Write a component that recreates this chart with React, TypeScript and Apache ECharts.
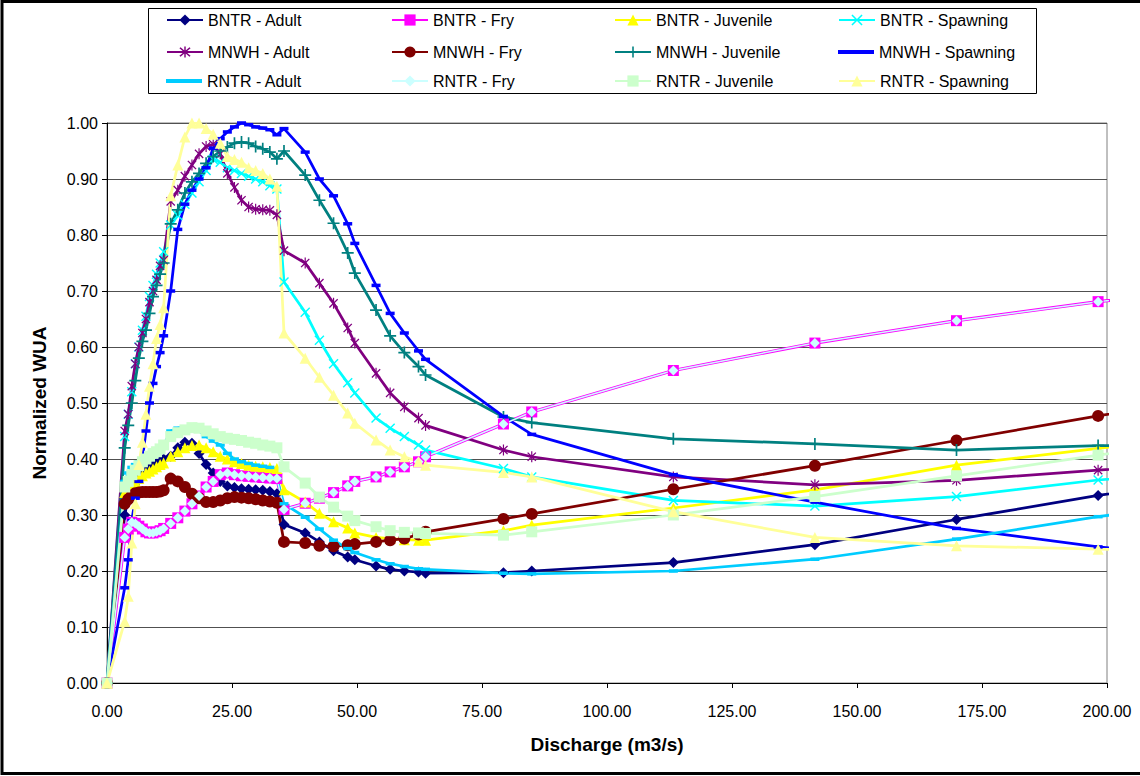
import React, { useEffect, useRef } from 'react';
import * as echarts from 'echarts';

// Discharge (m3/s)
const DISCHARGE = [0, 3.54, 4.25, 4.96, 5.66, 6.37, 7.08, 7.79, 8.50, 9.20, 9.91, 10.62, 11.33, 12.74, 14.16, 15.58, 16.99, 18.41, 19.82, 21.24, 22.65, 24.07, 25.49, 26.90, 28.32, 29.73, 31.15, 32.57, 33.98, 35.40, 39.64, 42.48, 45.31, 48.14, 49.56, 53.81, 56.63, 59.47, 62.30, 63.71, 79.29, 84.95, 113.27, 141.58, 169.90, 198.22, 226.53];

const BNTR_ADULT = [0, 0.30, 0.33, 0.35, 0.36, 0.37, 0.375, 0.38, 0.385, 0.39, 0.393, 0.396, 0.40, 0.405, 0.42, 0.43, 0.428, 0.41, 0.39, 0.375, 0.36, 0.352, 0.349, 0.347, 0.346, 0.345, 0.344, 0.342, 0.338, 0.283, 0.268, 0.252, 0.236, 0.225, 0.22, 0.209, 0.203, 0.2, 0.198, 0.196, 0.197, 0.2, 0.215, 0.247, 0.292, 0.335, 0.37];
const BNTR_FRY = [0, 0.26, 0.275, 0.287, 0.285, 0.28, 0.275, 0.27, 0.268, 0.268, 0.27, 0.272, 0.276, 0.285, 0.295, 0.307, 0.32, 0.334, 0.35, 0.36, 0.372, 0.375, 0.372, 0.37, 0.369, 0.368, 0.367, 0.366, 0.365, 0.31, 0.321, 0.33, 0.34, 0.352, 0.36, 0.368, 0.377, 0.386, 0.395, 0.404, 0.4625, 0.484, 0.558, 0.607, 0.647, 0.681, 0.71];
const BNTR_JUVENILE = [0, 0.34, 0.35, 0.355, 0.36, 0.365, 0.37, 0.375, 0.378, 0.382, 0.386, 0.39, 0.393, 0.405, 0.413, 0.42, 0.424, 0.425, 0.42, 0.413, 0.405, 0.40, 0.395, 0.392, 0.389, 0.387, 0.386, 0.385, 0.383, 0.345, 0.323, 0.303, 0.288, 0.277, 0.268, 0.26, 0.258, 0.256, 0.255, 0.255, 0.272, 0.282, 0.3125, 0.345, 0.389, 0.419, 0.45];
const BNTR_SPAWNING = [0, 0.44, 0.48, 0.52, 0.57, 0.60, 0.63, 0.655, 0.69, 0.71, 0.73, 0.75, 0.77, 0.818, 0.835, 0.855, 0.875, 0.895, 0.915, 0.935, 0.93, 0.92, 0.915, 0.91, 0.905, 0.90, 0.895, 0.888, 0.882, 0.716, 0.662, 0.612, 0.57, 0.536, 0.518, 0.473, 0.455, 0.44, 0.425, 0.416, 0.383, 0.368, 0.326, 0.316, 0.333, 0.3625, 0.38];
const MNWH_ADULT = [0, 0.45, 0.48, 0.53, 0.57, 0.60, 0.625, 0.65, 0.68, 0.70, 0.72, 0.745, 0.755, 0.86, 0.88, 0.905, 0.925, 0.945, 0.958, 0.962, 0.945, 0.91, 0.885, 0.862, 0.85, 0.846, 0.845, 0.844, 0.836, 0.772, 0.75, 0.714, 0.678, 0.634, 0.607, 0.553, 0.518, 0.493, 0.473, 0.46, 0.416, 0.404, 0.368, 0.354, 0.362, 0.38, 0.40];
const MNWH_FRY = [0, 0.32, 0.328, 0.335, 0.339, 0.34, 0.341, 0.341, 0.341, 0.341, 0.341, 0.342, 0.344, 0.365, 0.36, 0.35, 0.338, 0.33, 0.323, 0.323, 0.326, 0.33, 0.332, 0.331, 0.33, 0.328, 0.326, 0.324, 0.322, 0.252, 0.25, 0.245, 0.244, 0.246, 0.248, 0.252, 0.255, 0.258, 0.265, 0.27, 0.293, 0.302, 0.346, 0.388, 0.433, 0.477, 0.52];
const MNWH_JUVENILE = [0, 0.42, 0.46, 0.50, 0.54, 0.58, 0.61, 0.63, 0.66, 0.69, 0.71, 0.73, 0.75, 0.82, 0.845, 0.875, 0.895, 0.91, 0.928, 0.94, 0.95, 0.957, 0.964, 0.966, 0.964, 0.958, 0.954, 0.948, 0.936, 0.95, 0.907, 0.862, 0.821, 0.768, 0.732, 0.666, 0.62, 0.59, 0.565, 0.55, 0.475, 0.465, 0.436, 0.427, 0.416, 0.424, 0.425];
const MNWH_SPAWNING = [0, 0.17, 0.22, 0.29, 0.33, 0.36, 0.40, 0.45, 0.50, 0.535, 0.565, 0.59, 0.62, 0.70, 0.81, 0.855, 0.88, 0.90, 0.92, 0.955, 0.972, 0.984, 0.993, 1.0, 0.997, 0.993, 0.991, 0.988, 0.979, 0.99, 0.948, 0.90, 0.87, 0.82, 0.785, 0.71, 0.66, 0.625, 0.593, 0.578, 0.476, 0.444, 0.372, 0.323, 0.276, 0.243, 0.22];
const RNTR_ADULT = [0, 0.36, 0.375, 0.385, 0.39, 0.395, 0.40, 0.405, 0.41, 0.413, 0.416, 0.42, 0.425, 0.45, 0.455, 0.456, 0.457, 0.45, 0.44, 0.432, 0.425, 0.41, 0.40, 0.395, 0.392, 0.389, 0.387, 0.385, 0.365, 0.32, 0.296, 0.275, 0.255, 0.24, 0.233, 0.22, 0.213, 0.208, 0.204, 0.203, 0.196, 0.195, 0.2, 0.221, 0.257, 0.297, 0.33];
// RNTR - Fry coincides with BNTR - Fry in the picture
const RNTR_FRY = [0, 0.26, 0.275, 0.287, 0.285, 0.28, 0.275, 0.27, 0.268, 0.268, 0.27, 0.272, 0.276, 0.285, 0.295, 0.307, 0.32, 0.334, 0.35, 0.36, 0.372, 0.375, 0.372, 0.37, 0.369, 0.368, 0.367, 0.366, 0.365, 0.31, 0.321, 0.33, 0.34, 0.352, 0.36, 0.368, 0.377, 0.386, 0.395, 0.404, 0.4625, 0.484, 0.558, 0.607, 0.647, 0.681, 0.71];
const RNTR_JUVENILE = [0, 0.35, 0.36, 0.372, 0.38, 0.388, 0.395, 0.40, 0.405, 0.41, 0.413, 0.418, 0.425, 0.44, 0.447, 0.452, 0.456, 0.455, 0.45, 0.445, 0.44, 0.437, 0.435, 0.433, 0.43, 0.428, 0.425, 0.423, 0.42, 0.386, 0.357, 0.332, 0.314, 0.298, 0.29, 0.279, 0.272, 0.269, 0.268, 0.267, 0.264, 0.27, 0.30, 0.333, 0.37, 0.407, 0.44];
const RNTR_SPAWNING = [0, 0.11, 0.155, 0.25, 0.32, 0.39, 0.43, 0.48, 0.53, 0.57, 0.615, 0.64, 0.67, 0.87, 0.925, 0.975, 1.0, 1.0, 0.99, 0.98, 0.964, 0.94, 0.935, 0.93, 0.92, 0.915, 0.91, 0.90, 0.887, 0.625, 0.58, 0.546, 0.514, 0.482, 0.464, 0.434, 0.416, 0.404, 0.395, 0.389, 0.376, 0.368, 0.306, 0.26, 0.245, 0.239, 0.235];

const X_SYM = 'path://M1,0L5,4L9,0L10,1L6,5L10,9L9,10L5,6L1,10L0,9L4,5L0,1Z';
const AST_SYM = 'path://M1,0L5,4L9,0L10,1L6,5L10,9L9,10L5,6L1,10L0,9L4,5L0,1Z M4.35,-1H5.65V11H4.35Z';
const PLUS_SYM = 'path://M4.3,0H5.7V4.3H10V5.7H5.7V10H4.3V5.7H0V4.3H4.3Z';

const SERIES_DEFS = [
  { name: 'BNTR - Adult', data: BNTR_ADULT, color: '#000080', symbol: 'diamond', size: 11, width: 2.75, dash: false },
  { name: 'BNTR - Fry', data: BNTR_FRY, color: '#FF00FF', symbol: 'rect', size: 11, width: 3.25, dash: false },
  { name: 'BNTR - Juvenile', data: BNTR_JUVENILE, color: '#FFFF00', symbol: 'triangle', size: 11, width: 2.75, dash: false },
  { name: 'BNTR - Spawning', data: BNTR_SPAWNING, color: '#00FFFF', symbol: X_SYM, size: 10, width: 2.75, dash: false },
  { name: 'MNWH - Adult', data: MNWH_ADULT, color: '#800080', symbol: AST_SYM, size: 11, width: 2.75, dash: false },
  { name: 'MNWH - Fry', data: MNWH_FRY, color: '#800000', symbol: 'circle', size: 12, width: 2.75, dash: false },
  { name: 'MNWH - Juvenile', data: MNWH_JUVENILE, color: '#008080', symbol: PLUS_SYM, size: 12, width: 2.75, dash: false },
  { name: 'MNWH - Spawning', data: MNWH_SPAWNING, color: '#0000FF', symbol: 'rect', size: [9, 3.5], width: 2.75, dash: true },
  { name: 'RNTR - Adult', data: RNTR_ADULT, color: '#00CCFF', symbol: 'rect', size: [9, 3.5], width: 2.75, dash: true },
  { name: 'RNTR - Fry', data: RNTR_FRY, color: '#CCFFFF', symbol: 'diamond', size: 10, width: 1.5, dash: false },
  { name: 'RNTR - Juvenile', data: RNTR_JUVENILE, color: '#CCFFCC', symbol: 'rect', size: 11, width: 2.75, dash: false },
  { name: 'RNTR - Spawning', data: RNTR_SPAWNING, color: '#FFFF99', symbol: 'triangle', size: 11, width: 2.75, dash: false },
];

const FONT = '"Liberation Sans", Arial, sans-serif';

export default function App() {
  const ref = useRef<HTMLDivElement>(null);
  useEffect(() => {
    const chart = echarts.init(ref.current as HTMLDivElement, null, { renderer: 'svg' });
    const colLeft = [166, 391, 614, 838];
    const rowTop = [12, 44, 73];
    const legends = SERIES_DEFS.map((s, i) => {
      const base: any = {
        data: [s.name],
        left: colLeft[i % 4],
        top: rowTop[Math.floor(i / 4)],
        padding: 0,
        itemWidth: 36,
        itemHeight: 14,
        selectedMode: false,
        textStyle: { fontSize: 16, color: '#000', fontFamily: FONT },
      };
      if (s.dash) {
        base.icon = 'rect';
        base.itemHeight = 4;
        base.top = rowTop[Math.floor(i / 4)];
      }
      return base;
    });
    const series = SERIES_DEFS.map((s) => ({
      type: 'line',
      name: s.name,
      data: DISCHARGE.map((x, i) => [x, s.data[i]]),
      symbol: s.symbol,
      symbolSize: s.size,
      symbolKeepAspect: true,
      showAllSymbol: true,
      clip: true,
      silent: true,
      lineStyle: { color: s.color, width: s.width },
      itemStyle: { color: s.color, borderWidth: 0 },
      emphasis: { disabled: true },
    }));
    chart.setOption({
      animation: false,
      backgroundColor: '#fff',
      textStyle: { fontFamily: FONT },
      grid: { left: 107, top: 123, right: 33, bottom: 93, show: true, borderColor: '#808080', borderWidth: 1 },
      legend: legends,
      xAxis: {
        type: 'value',
        min: 0,
        max: 200,
        interval: 25,
        name: 'Discharge (m3/s)',
        nameLocation: 'middle',
        nameGap: 52,
        nameTextStyle: { fontSize: 19, fontWeight: 'bold', color: '#000', fontFamily: FONT },
        axisLine: { lineStyle: { color: '#000', width: 1 } },
        axisTick: { show: true, inside: false, length: 5, lineStyle: { color: '#000' } },
        axisLabel: { fontSize: 16, color: '#000', margin: 20, formatter: (v: number) => v.toFixed(2) },
        splitLine: { show: false },
      },
      yAxis: {
        type: 'value',
        min: 0,
        max: 1,
        interval: 0.1,
        name: 'Normalized WUA',
        nameLocation: 'middle',
        nameRotate: 90,
        nameGap: 58,
        nameTextStyle: { fontSize: 19, fontWeight: 'bold', color: '#000', fontFamily: FONT },
        axisLine: { show: true, lineStyle: { color: '#000', width: 1 } },
        axisTick: { show: true, inside: false, length: 5, lineStyle: { color: '#000' } },
        axisLabel: { fontSize: 16, color: '#000', margin: 9, formatter: (v: number) => v.toFixed(2) },
        splitLine: { show: true, lineStyle: { color: '#505050', width: 1 } },
      },
      graphic: [
        { type: 'rect', silent: true, shape: { x: 2, y: 1.5, width: 1160, height: 772 }, style: { fill: 'none', stroke: '#000', lineWidth: 3 } },
        { type: 'rect', silent: true, shape: { x: 148.5, y: 8.5, width: 888, height: 85 }, style: { fill: 'none', stroke: '#000', lineWidth: 1 } },
      ],
      series,
    });
    return () => chart.dispose();
  }, []);
  return <div ref={ref} style={{ position: 'absolute', left: 0, top: 0, width: 1140, height: 776, background: '#fff' }} />;
}
